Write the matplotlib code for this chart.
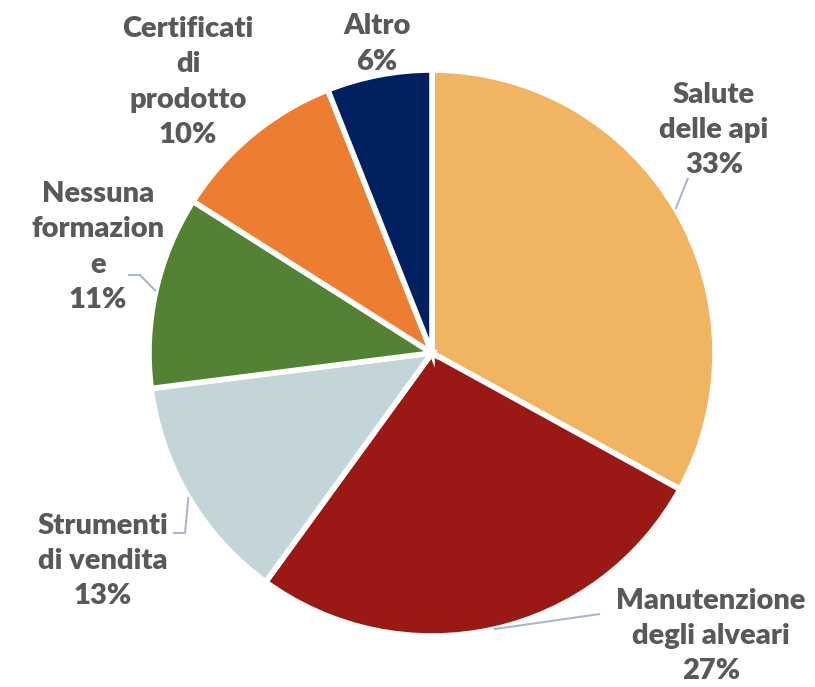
import numpy as np
import matplotlib
matplotlib.use("Agg")
import matplotlib.pyplot as plt

categories = ["Salute\ndelle api", "Manutenzione\ndegli alveari", "Strumenti\ndi vendita",
              "Nessuna\nformazion\ne", "Certificati\ndi\nprodotto", "Altro"]
values = [33, 27, 13, 11, 10, 6]
colors = ["#F1B562", "#9A1915", "#C3D5D8", "#548235", "#ED7D31", "#002060"]

W, H = 815, 687
fig = plt.figure(figsize=(W / 100, H / 100), dpi=100)
ax = fig.add_axes([0, 0, 1, 1])

cx, cy, R = 432, H - 353, 283
wedges, _ = ax.pie(values, colors=colors, startangle=90, counterclock=False,
                   center=(cx, cy), radius=R, frame=True,
                   wedgeprops=dict(edgecolor="white", linewidth=4))
ax.set_xlim(0, W)
ax.set_ylim(0, H)
ax.set_aspect("equal")
ax.axis("off")

# label centres (pixels, image coords)
label_pos = [(714, 130), (711, 636), (103, 561), (98, 247), (188, 82), (377, 44)]
leader = [[(688, 178)], [(600, 614)], [(173, 533), (185, 533)], [(128, 275), (140, 275)], None, None]

tcol = "#595959"
for i, (w, lab, v) in enumerate(zip(wedges, categories, values)):
    lx, ly = label_pos[i]
    ax.text(lx, H - ly, f"{lab}\n{v}%", ha="center", va="center", fontsize=21,
            fontweight="heavy", color=tcol, family="Lato", linespacing=1.45)
    if leader[i] is not None:
        ang = np.deg2rad((w.theta1 + w.theta2) / 2)
        ex, ey = cx + R * np.cos(ang), cy + R * np.sin(ang)
        pts = [(x, H - y) for x, y in leader[i]] + [(ex, ey)]
        xs, ys = zip(*pts)
        ax.plot(xs, ys, color="#A9B7C9", lw=1.5, solid_capstyle="butt")

fig.savefig("out.png", dpi=100, facecolor="white")
